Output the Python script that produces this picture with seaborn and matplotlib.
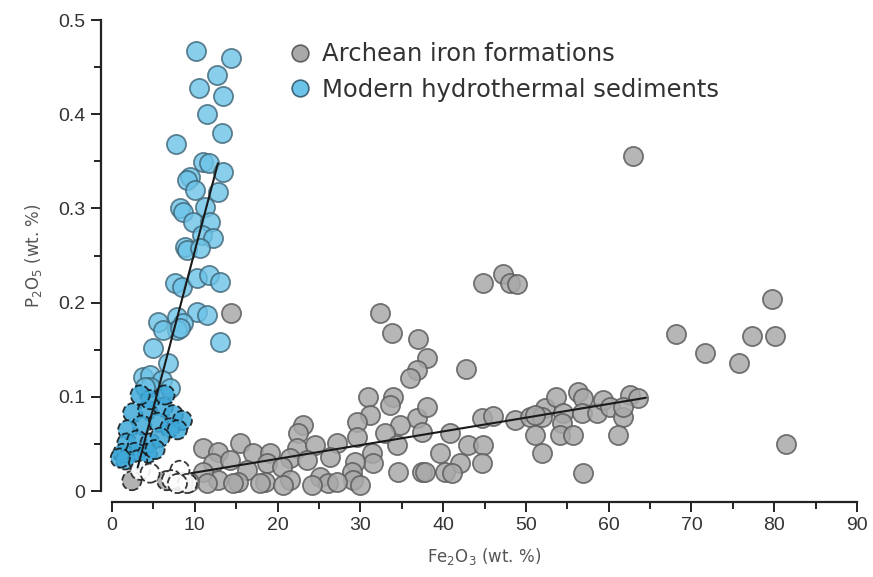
import matplotlib
matplotlib.use("Agg")
import matplotlib.pyplot as plt
from matplotlib.lines import Line2D
import seaborn as sns
import pandas as pd
import numpy as np

# ---------------- data ----------------
archean_fe = [32.4, 33.8, 37.0, 38.0, 36.8, 36.0, 30.9, 33.9, 33.6, 31.2, 29.6, 23.1, 22.5,
              36.8, 34.8, 33.0, 29.6, 27.2, 15.5, 11.0, 12.8, 17.0, 19.1, 22.3, 24.5, 21.5,
              23.6, 26.3, 31.4, 31.5, 34.4, 29.3, 29.0, 34.5, 37.4, 12.2, 14.3, 18.7, 20.5,
              16.3, 12.8, 15.2, 18.5, 21.5, 25.1, 26.1, 29.1, 11.0, 11.5, 14.6, 17.9, 20.7,
              24.2, 27.2, 30.0,
              44.8, 47.2, 48.1, 48.9, 42.8, 38.0, 37.4, 40.8, 43.0, 44.8, 44.7, 42.0, 39.6,
              37.8, 40.2, 41.1, 44.7, 46.0, 48.7, 50.5, 52.3, 51.9, 53.6, 54.5, 54.3, 54.1,
              55.7, 56.3, 56.9, 56.8, 58.6, 59.3, 60.1, 61.7, 62.6, 63.5, 61.1, 51.1, 51.9,
              56.9, 51.1, 61.7,
              62.9, 68.1, 71.6, 75.8, 77.3, 80.1, 79.7, 81.4, 14.4, 9.3, 8.6]
archean_p = [0.189, 0.168, 0.161, 0.141, 0.128, 0.120, 0.100, 0.100, 0.091, 0.081, 0.073, 0.070, 0.062,
             0.077, 0.070, 0.062, 0.057, 0.051, 0.051, 0.046, 0.041, 0.040, 0.040, 0.046, 0.049, 0.035,
             0.033, 0.036, 0.040, 0.030, 0.049, 0.031, 0.020, 0.020, 0.020, 0.030, 0.033, 0.030, 0.025,
             0.022, 0.012, 0.010, 0.010, 0.012, 0.015, 0.008, 0.012, 0.020, 0.008, 0.008, 0.008, 0.006,
             0.006, 0.010, 0.006,
             0.221, 0.230, 0.221, 0.220, 0.130, 0.089, 0.063, 0.062, 0.049, 0.049, 0.030, 0.030, 0.040,
             0.020, 0.020, 0.019, 0.077, 0.080, 0.075, 0.079, 0.088, 0.079, 0.100, 0.083, 0.072, 0.059,
             0.059, 0.105, 0.099, 0.083, 0.083, 0.097, 0.089, 0.079, 0.102, 0.099, 0.059, 0.059, 0.040,
             0.019, 0.081, 0.089,
             0.356, 0.167, 0.146, 0.136, 0.165, 0.165, 0.204, 0.050, 0.189, 0.010, 0.010]

archean_low_fe = [2.4, 6.6, 7.9]          # dashed-outline grey points near origin
archean_low_p = [0.011, 0.011, 0.011]

modern_fe = [10.1, 14.4, 12.7, 10.5, 13.4, 11.5, 13.3, 7.7, 11.0, 11.7, 13.4, 9.4, 9.1, 10.0,
             12.8, 8.2, 8.6, 11.2, 9.8, 11.8, 10.9, 12.2, 8.8, 9.1, 10.6, 7.6, 8.5, 10.3, 11.7,
             13.0, 10.3, 11.5, 7.9, 8.6, 7.9, 13.0, 5.6, 6.2, 8.2, 5.0, 6.8, 3.7, 4.6, 6.0, 7.0,
             4.6, 4.0]
modern_p = [0.467, 0.460, 0.442, 0.428, 0.419, 0.400, 0.380, 0.368, 0.349, 0.348, 0.339, 0.333,
            0.330, 0.320, 0.317, 0.300, 0.296, 0.301, 0.286, 0.286, 0.272, 0.269, 0.259, 0.256,
            0.258, 0.221, 0.217, 0.226, 0.229, 0.222, 0.190, 0.187, 0.185, 0.178, 0.171, 0.158,
            0.179, 0.171, 0.173, 0.152, 0.136, 0.121, 0.123, 0.118, 0.109, 0.110, 0.110]

modern_low_fe = [2.5, 4.3, 6.2, 7.4, 8.5, 3.6, 5.6, 7.0, 7.9, 1.9, 1.8, 3.0, 4.6, 5.8, 1.3,
                 2.8, 4.3, 5.2, 1.6, 3.1, 1.0, 4.6, 3.4, 6.4]
modern_low_p = [0.083, 0.086, 0.089, 0.081, 0.075, 0.070, 0.073, 0.067, 0.065, 0.065, 0.051,
                0.054, 0.051, 0.057, 0.040, 0.041, 0.040, 0.044, 0.033, 0.033, 0.035, 0.097,
                0.102, 0.102]

blank_fe = [3.4, 4.6, 8.2, 7.2, 9.1, 7.9]   # white dashed circles
blank_p = [0.022, 0.019, 0.022, 0.012, 0.008, 0.008]

trend_modern_fe = [3.1, 12.8]
trend_modern_p = [0.025, 0.348]
trend_archean_fe = [9.6, 64.5]
trend_archean_p = [0.019, 0.099]

legend_labels = ["Archean iron formations", "Modern hydrothermal sediments"]
x_ticks = [0, 10, 20, 30, 40, 50, 60, 70, 80, 90]
y_ticks = [0, 0.1, 0.2, 0.3, 0.4, 0.5]
y_tick_labels = ["0", "0.1", "0.2", "0.3", "0.4", "0.5"]

# ---------------- styling ----------------
sns.set_style("ticks")
plt.rcParams["font.family"] = ["DejaVu Sans"]

GREY = "#a9a9a9"
GREY_EDGE = "#5e5e5e"
BLUE = "#6cc3e8"
BLUE_EDGE = "#3f6577"
BLUE_DARK = "#3ea8d8"

fig = plt.figure(figsize=(8.73, 5.77), dpi=100)
ax = fig.add_axes([0.1283, 0.149, 0.8534, 0.8163])

S = 190

df_a = pd.DataFrame({"fe": archean_fe, "p": archean_p})
df_al = pd.DataFrame({"fe": archean_low_fe, "p": archean_low_p})
df_m = pd.DataFrame({"fe": modern_fe, "p": modern_p})
df_ml = pd.DataFrame({"fe": modern_low_fe, "p": modern_low_p})
df_b = pd.DataFrame({"fe": blank_fe, "p": blank_p})

sns.scatterplot(data=df_a, x="fe", y="p", ax=ax, s=S, color=GREY, edgecolor=GREY_EDGE,
                linewidth=1.3, alpha=0.85, legend=False, clip_on=False, zorder=2)
sns.scatterplot(data=df_m, x="fe", y="p", ax=ax, s=S, color=BLUE, edgecolor=BLUE_EDGE,
                linewidth=1.3, alpha=0.8, legend=False, clip_on=False, zorder=3)
sns.scatterplot(data=df_ml, x="fe", y="p", ax=ax, s=S, color=BLUE_DARK, edgecolor="#111111",
                linewidth=1.3, alpha=0.85, linestyle="--", legend=False, clip_on=False, zorder=4)
sns.scatterplot(data=df_al, x="fe", y="p", ax=ax, s=S, color=GREY, edgecolor="#222222",
                linewidth=1.3, alpha=0.9, linestyle="--", legend=False, clip_on=False, zorder=4)
sns.scatterplot(data=df_b, x="fe", y="p", ax=ax, s=S, color="white", edgecolor="#222222",
                linewidth=1.3, alpha=0.9, linestyle="--", legend=False, clip_on=False, zorder=5)

sns.lineplot(x=trend_modern_fe, y=trend_modern_p, ax=ax, color="#1a1a1a", linewidth=1.5, zorder=6)
sns.lineplot(x=trend_archean_fe, y=trend_archean_p, ax=ax, color="#1a1a1a", linewidth=1.5, zorder=6)

ax.set_xlim(0, 90)
ax.set_ylim(0, 0.5)
ax.set_xticks(x_ticks)
ax.set_yticks(y_ticks)
ax.set_xticks(np.arange(5, 90, 10), minor=True)
ax.set_yticks(np.arange(0.05, 0.5, 0.1), minor=True)

sns.despine(ax=ax, offset=8, trim=True)
for sp in ("left", "bottom"):
    ax.spines[sp].set_linewidth(1.6)
    ax.spines[sp].set_color("#222222")

# tick labels set after despine (trim re-creates them)
tick_font = ["Liberation Sans Narrow", "Liberation Sans", "DejaVu Sans"]
ax.set_xticks(x_ticks)
ax.set_xticklabels([str(t) for t in x_ticks], fontsize=14, color="#333333", family=tick_font)
ax.set_yticks(y_ticks)
ax.set_yticklabels(y_tick_labels, fontsize=14, color="#333333", family=tick_font)

ax.tick_params(which="major", length=7, width=1.4, color="#222222", pad=4)
ax.tick_params(which="minor", length=5, width=1.4, color="#222222")

ax.set_xlabel("Fe$_2$O$_3$ (wt. %)", fontsize=12, color="#555555", labelpad=8,
              family="DejaVu Sans")
ax.set_ylabel("P$_2$O$_5$ (wt. %)", fontsize=12, color="#555555", labelpad=10,
              family="DejaVu Sans")

handles = [
    Line2D([0], [0], marker="o", linestyle="none", markersize=12, markerfacecolor=GREY,
           markeredgecolor=GREY_EDGE, markeredgewidth=1.2),
    Line2D([0], [0], marker="o", linestyle="none", markersize=12, markerfacecolor=BLUE,
           markeredgecolor=BLUE_EDGE, markeredgewidth=1.2),
]
leg = ax.legend(handles, legend_labels, loc="upper left", bbox_to_anchor=(0.238, 0.953),
                frameon=False, fontsize=17.5, handlelength=0.9, handletextpad=0.45,
                labelspacing=0.48, borderaxespad=0, borderpad=0)
for t in leg.get_texts():
    t.set_color("#333333")

fig.savefig("out.png", dpi=100)
